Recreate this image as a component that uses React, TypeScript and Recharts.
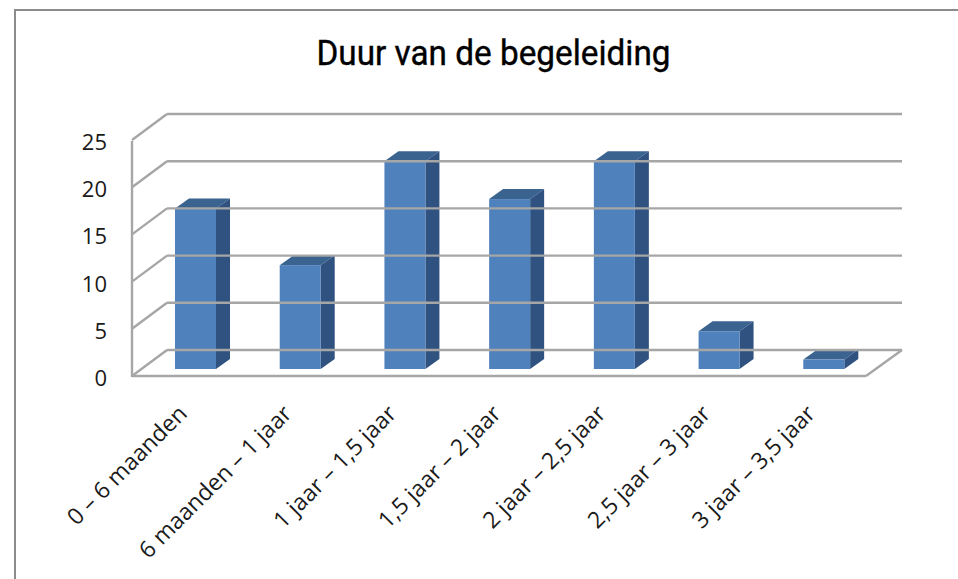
import { BarChart, Bar, XAxis, YAxis, ReferenceLine } from "recharts";

const CATEGORIES = [
  "0 – 6 maanden",
  "6 maanden – 1 jaar",
  "1 jaar – 1,5 jaar",
  "1,5 jaar – 2 jaar",
  "2 jaar – 2,5 jaar",
  "2,5 jaar – 3 jaar",
  "3 jaar – 3,5 jaar",
];
const VALUES = [17, 11, 22, 18, 22, 4, 1];
const TICKS = [0, 5, 10, 15, 20, 25];

const rows = CATEGORIES.map((name, i) => ({ name, value: VALUES[i] }));

const FONT = "'Open Sans', sans-serif";
const GRID = "#a6a6a6";
const TEXT = "#1a1a1a";

// fake 3d: how far the walls and bar sides sit from the bar plane
const BAR_DX = 14;
const BAR_DY = 10;
const BACK_DY = 19;
const FRONT_DY = 7;

// one gridline: back wall line plus the diagonal on the side wall
function WallLine(props: any) {
  const { x1, x2, y1 } = props;
  const isFloor = props.level === 0;
  const fx = x1 - 11;
  const bx = x1 + 24;
  const rx = x2 + 26;
  const fy = y1 + FRONT_DY;
  const by = y1 - BACK_DY;
  return (
    <g stroke={GRID} strokeWidth={2.4} fill="none">
      <line x1={bx} y1={by} x2={rx} y2={by} />
      <line x1={fx} y1={fy} x2={bx} y2={by} />
      {isFloor && (
        <>
          <path d={`M${fx},${fy - 235} L${fx},${fy + 1}`} />
          <line x1={fx} y1={fy} x2={x2 - 10} y2={fy} />
          <line x1={x2 - 10} y1={fy} x2={rx} y2={by} />
        </>
      )}
    </g>
  );
}

function Bar3D(props: any) {
  const { x, y, width, height } = props;
  const r = x + width;
  const b = y + height;
  return (
    <g>
      <polygon
        fill="#3a6390"
        points={`${x},${y} ${x + BAR_DX},${y - BAR_DY} ${r + BAR_DX},${y - BAR_DY} ${r},${y}`}
      />
      <polygon
        fill="#2f5280"
        points={`${r},${y} ${r + BAR_DX},${y - BAR_DY} ${r + BAR_DX},${b - BAR_DY} ${r},${b}`}
      />
      <rect x={x} y={y} width={width} height={height} fill="#4f81bd" />
    </g>
  );
}

function YTick({ x, y, payload }: any) {
  return (
    <text x={x - 28} y={y + FRONT_DY + 10} textAnchor="end" fontFamily={FONT} fontSize={22} fill={TEXT}>
      {payload.value}
    </text>
  );
}

function XTick({ x, y, payload }: any) {
  return (
    <text
      transform={`translate(${x - 7},${y + 38}) rotate(-45)`}
      textAnchor="end"
      fontFamily={FONT}
      fontSize={23}
      fill={TEXT}
    >
      {payload.value}
    </text>
  );
}

export default function App() {
  return (
    <div style={{ position: "absolute", left: 0, top: 0, width: 958, height: 579, background: "#fff", overflow: "hidden" }}>
      <div
        style={{
          position: "absolute",
          left: 14,
          top: 9,
          width: 944,
          height: 570,
          borderTop: "2px solid #8c8c8c",
          borderLeft: "2px solid #8c8c8c",
        }}
      />
      <BarChart
        width={958}
        height={579}
        data={rows}
        style={{ position: "absolute", left: 0, top: 0 }}
        margin={{ top: 133, right: 82, bottom: 110, left: 115 }}
      >
        <text
          x={493.5}
          y={65}
          textAnchor="middle"
          fontFamily="Roboto, sans-serif"
          fontSize={35}
          textLength={354}
          lengthAdjust="spacingAndGlyphs"
          stroke="#000"
          strokeWidth={0.4}
          fill="#000"
        >
          Duur van de begeleiding
        </text>
        <XAxis dataKey="name" interval={0} height={100} axisLine={false} tickLine={false} tick={<XTick />} />
        <YAxis
          domain={[0, 25]}
          ticks={TICKS}
          width={28}
          axisLine={false}
          tickLine={false}
          tick={<YTick />}
        />
        {TICKS.map((t) => (
          <ReferenceLine key={t} y={t} shape={(p: any) => <WallLine {...p} level={t} />} />
        ))}
        <Bar dataKey="value" barSize={41} shape={<Bar3D />} isAnimationActive={false} />
      </BarChart>
    </div>
  );
}
